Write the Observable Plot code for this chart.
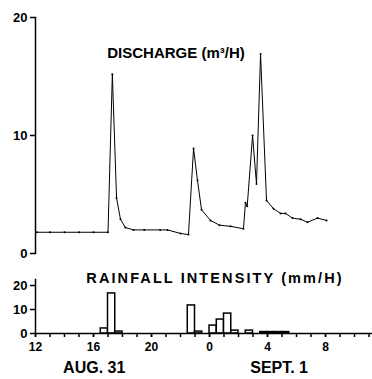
<!DOCTYPE html>
<html>
<head>
<meta charset="utf-8">
<script src="https://cdn.jsdelivr.net/npm/d3@7"></script>
<script src="https://cdn.jsdelivr.net/npm/@observablehq/plot@0.6"></script>
<style>
  html, body { margin: 0; padding: 0; background: #fff; }
  #chart { width: 372px; }
  svg { display: block; }
</style>
</head>
<body>
<div id="chart"></div>
<script>
// Hours counted from Aug 31 00:00 (24 = Sept 1 00:00)
const dischargeHours = [12.1, 13, 14, 15, 16, 17.0, 17.3, 17.59, 17.86, 18.2, 18.76, 19.5, 20.6, 21.1, 22.0, 22.55,
  22.9, 23.17, 23.45, 24.07, 24.69, 25.45, 26.34, 26.48, 26.6, 26.97, 27.24, 27.52, 27.93, 28.41, 28.9, 29.24,
  29.72, 30.28, 30.76, 31.45, 32.07];
const dischargeValues = [1.8, 1.8, 1.8, 1.8, 1.8, 1.8, 15.2, 4.7, 2.9, 2.2, 2.0, 2.0, 2.0, 2.0, 1.7, 1.6,
  8.9, 6.2, 3.7, 2.8, 2.4, 2.3, 2.1, 4.3, 4.0, 10.0, 5.9, 16.9, 4.5, 3.8, 3.4, 3.4,
  3.0, 2.9, 2.65, 3.0, 2.8];

const rainStart = [16.5, 17.0, 17.5, 22.5, 23.0, 24.0, 24.5, 25.0, 25.5, 26.5, 27.5, 28.0, 28.5, 29.0];
const rainEnd   = [17.0, 17.5, 18.0, 23.0, 23.5, 24.5, 25.0, 25.5, 26.0, 27.0, 28.0, 28.5, 29.0, 29.5];
const rainValues = [2.1, 16.7, 0.8, 11.7, 0.8, 3.3, 5.8, 8.3, 1.2, 1.2, 0.6, 0.6, 0.6, 0.6];

const xTickHours = [12, 16, 20, 24, 28, 32];
const xTickLabels = ["12", "16", "20", "0", "4", "8"];
const minorTickHours = d3.range(12, 36);
const yTicks = [0, 10, 20];
const dateLabels = ["AUG. 31", "SEPT. 1"];
const dateHours = [16.05, 28.8];
const dischargeTitle = "DISCHARGE (m\u00B3/H)";
const rainTitle = "RAINFALL INTENSITY (mm/H)";

const discharge = dischargeHours.map((h, i) => ({h, v: dischargeValues[i]}));
const rain = rainStart.map((s, i) => ({s, e: rainEnd[i], v: rainValues[i]}));
const dates = dateLabels.map((t, i) => ({t, h: dateHours[i]}));

const xDomain = [12, 35.24];
const font = {fontFamily: "'Liberation Sans', Arial, sans-serif", fontWeight: "bold", fontSize: "12px", color: "#000", background: "#fff"};

const topChart = Plot.plot({
  width: 372, height: 262,
  marginLeft: 35, marginRight: 0, marginTop: 17, marginBottom: 9,
  style: font,
  x: {domain: xDomain, axis: null},
  y: {domain: [0, 20], axis: null},
  marks: [
    Plot.frame({anchor: "left", stroke: "#000", strokeWidth: 1.5}),
    Plot.axisY({ticks: yTicks, label: null, tickSize: 5, tickPadding: 3, fontSize: 13, fontWeight: "bold", strokeWidth: 1.5}),
    Plot.line(discharge, {x: "h", y: "v", stroke: "#000", strokeWidth: 1}),
    Plot.dot(discharge, {x: "h", y: "v", r: 1, fill: "#000", stroke: null}),
    Plot.text([dischargeTitle], {frameAnchor: "top", dx: -28, dy: 30, fontSize: 15, fontWeight: "bold", fill: "#000"})
  ]
});

const bottomChart = Plot.plot({
  width: 372, height: 117,
  marginLeft: 35, marginRight: 0, marginTop: 17, marginBottom: 46,
  style: font,
  x: {domain: xDomain},
  y: {domain: [0, 22.5], axis: null},
  marks: [
    Plot.rectY(rain, {x1: "s", x2: "e", y: "v", fill: "#fff", stroke: "#000", strokeWidth: 1.5}),
    Plot.frame({anchor: "left", stroke: "#000", strokeWidth: 1.5}),
    Plot.frame({anchor: "bottom", stroke: "#000", strokeWidth: 1.5}),
    Plot.axisY({ticks: yTicks, label: null, tickSize: 5, tickPadding: 3, fontSize: 13, fontWeight: "bold", strokeWidth: 1.5}),
    Plot.axisX({ticks: minorTickHours, label: null, tickSize: 4, tickFormat: () => "", strokeWidth: 1.5}),
    Plot.axisX({ticks: xTickHours, label: null, tickSize: 4, tickPadding: 5, tickFormat: (d) => xTickLabels[xTickHours.indexOf(d)], fontSize: 12, fontWeight: "bold", strokeWidth: 1.5}),
    Plot.text(dates, {x: "h", text: "t", frameAnchor: "bottom", dy: 39, fontSize: 16, fontWeight: "bold", fill: "#000"}),
    Plot.text([rainTitle], {frameAnchor: "top", dx: 11, dy: -7, fontSize: 14.5, fontWeight: "bold", fill: "#000"})
  ]
});

// widen the letter spacing of the rainfall title, as in the original figure
d3.select(bottomChart).selectAll("text")
  .filter(function () { return this.textContent === rainTitle; })
  .style("letter-spacing", "2.1px");

const chart = document.getElementById("chart");
chart.append(topChart, bottomChart);
</script>
</body>
</html>
